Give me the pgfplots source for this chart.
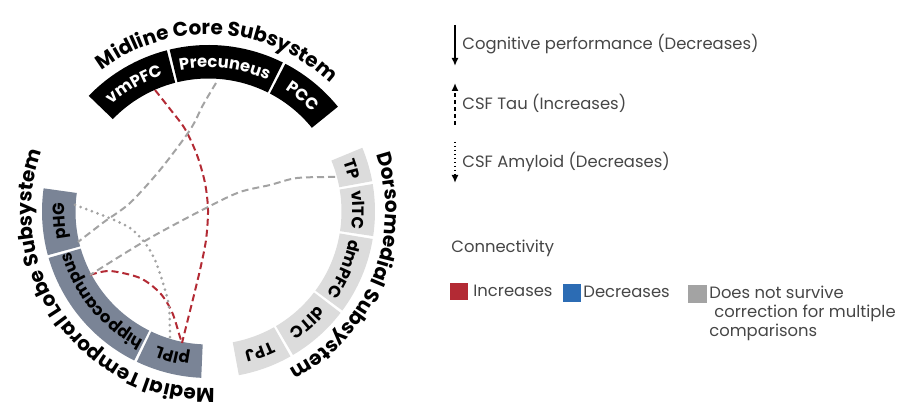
\documentclass[border=0pt]{standalone}
\usepackage{fontspec}
\setmainfont{Poppins}
\usepackage{pgfplots}
\pgfplotsset{compat=1.18}
\usetikzlibrary{decorations.text,arrows.meta}

\definecolor{mtl}{RGB}{122,132,150}
\definecolor{dms}{RGB}{220,220,220}
\definecolor{incr}{RGB}{179,42,52}
\definecolor{decr}{RGB}{44,108,180}
\definecolor{nosurv}{RGB}{163,163,163}
\definecolor{legtext}{RGB}{70,70,70}

\newcommand\titlefont{\fontsize{10pt}{12pt}\selectfont\bfseries}
\newcommand\segfont{\fontsize{8.2pt}{10pt}\selectfont\bfseries}
\newcommand\legfont{\fontsize{8.2pt}{10pt}\selectfont}

% ring centre (208.5,193.5), inner radius 133, outer radius 166.5 (axis units)
\newcommand\sector[3]{%
  \fill[#3] (axis cs:{208.5+133*cos(#1+0.5)},{193.5+133*sin(#1+0.5)})
    arc[start angle={#1+0.5}, end angle={#2-0.5}, radius=66.5pt]
    -- (axis cs:{208.5+166.5*cos(#2-0.5)},{193.5+166.5*sin(#2-0.5)})
    arc[start angle={#2-0.5}, end angle={#1+0.5}, radius=83.25pt] -- cycle;}

% text set clockwise along a circle: mid angle, radius (units), radius (pt), format, text
\newcommand\arctext[5]{%
  \path[decorate,decoration={text along path,text align=center,text={|#4|#5}}]
    (axis cs:{208.5+#2*cos(#1+70)},{193.5+#2*sin(#1+70)})
    arc[start angle={#1+70}, end angle={#1-70}, radius=#3];}

\begin{document}
\begin{tikzpicture}
\begin{axis}[
  x=0.5pt, y=0.5pt,
  xmin=0, xmax=900, ymin=0, ymax=405,
  hide axis, clip=false,
  at={(0,0)}, anchor=south west,
]
% ---- Midline Core Subsystem
\sector{104}{136.5}{black}
\sector{63}{104}{black}
\sector{38.5}{63}{black}
% ---- Dorsomedial Subsystem
\sector{10}{23}{dms}
\sector{-9}{10}{dms}
\sector{-37}{-9}{dms}
\sector{-60}{-37}{dms}
\sector{-80}{-60}{dms}
% ---- Medial Temporal Lobe Subsystem
\sector{171.5}{195.7}{mtl}
\sector{195.7}{244}{mtl}
\sector{244}{268}{mtl}

% region names
\arctext{120.25}{144}{72pt}{\color{white}\segfont}{vmPFC}
\arctext{83.5}{144}{72pt}{\color{white}\segfont}{Precuneus}
\arctext{50.75}{144}{72pt}{\color{white}\segfont}{PCC}
\arctext{16.5}{144}{72pt}{\segfont}{TP}
\arctext{0.5}{144}{72pt}{\segfont}{vlTC}
\arctext{-23}{144}{72pt}{\segfont}{dmPFC}
\arctext{-48.5}{144}{72pt}{\segfont}{dlTC}
\arctext{-70}{144}{72pt}{\segfont}{TPJ}
\arctext{183.6}{144}{72pt}{\segfont}{pHG}
\arctext{219.85}{144}{72pt}{\segfont}{hippocampus}
\arctext{256}{144}{72pt}{\segfont}{pIPL}

% subsystem names
\arctext{86.8}{177}{88.5pt}{\titlefont}{Midline Core Subsystem}
\arctext{-22}{177}{88.5pt}{\titlefont}{Dorsomedial Subsystem}
\arctext{216}{177}{88.5pt}{\titlefont}{Medial Temporal Lobe Subsystem}

% ---- connections
% vmPFC -- pIPL (increase, CSF Tau)
\addplot[incr, line width=1pt, dash pattern=on 3.5pt off 2pt, smooth] coordinates {
  (155,315) (170,296) (185,276) (197,250) (205,222) (208,195) (206,165) (200,135) (191,98) (182,62)};
% hippocampus -- pIPL (increase, CSF Tau)
\addplot[incr, line width=1pt, dash pattern=on 3.5pt off 2pt, smooth] coordinates {
  (90,130) (110,134) (140,127) (160,112) (172,93) (180,68) (182,62)};
% Precuneus -- pHG
\addplot[nosurv, line width=1pt, dash pattern=on 3.5pt off 2pt, smooth] coordinates {
  (216,322) (203,300) (190,275) (160,235) (130,202) (104,183) (78,163)};
% TP -- hippocampus
\addplot[nosurv, line width=1pt, dash pattern=on 3.5pt off 2pt, smooth] coordinates {
  (335,228) (297,227) (270,220) (240,213) (208,198) (150,167) (90,130)};
% pHG -- pIPL (CSF Amyloid)
\addplot[nosurv, line width=1.5pt, line cap=round, dash pattern=on 0pt off 3pt, smooth] coordinates {
  (75,200) (107,188) (130,177) (145,162) (155,145) (163,122) (169,98) (170,63)};

% ---- key: line styles
\addplot[black, line width=0.8pt, -{Latex[length=4pt,width=3.5pt]}] coordinates {(455,380) (455,339)};
\addplot[black, line width=0.8pt, dash pattern=on 2pt off 1.5pt, -{Latex[length=4pt,width=3.5pt]}] coordinates {(455,280) (455,322)};
\addplot[black, line width=0.8pt, dash pattern=on 0.6pt off 1.4pt, -{Latex[length=4pt,width=3.5pt]}] coordinates {(455,263) (455,222)};
\node[anchor=base west, inner sep=0, font=\legfont, text=legtext] at (axis cs:462,355) {Cognitive performance (Decreases)};
\node[anchor=base west, inner sep=0, font=\legfont, text=legtext] at (axis cs:462,295) {CSF Tau (Increases)};
\node[anchor=base west, inner sep=0, font=\legfont, text=legtext] at (axis cs:462,237) {CSF Amyloid (Decreases)};

% ---- key: connectivity
\node[anchor=base west, inner sep=0, font=\legfont, text=legtext] at (axis cs:451,152) {Connectivity};
\fill[incr] (axis cs:450,105) rectangle (axis cs:468,122);
\fill[decr] (axis cs:563,103) rectangle (axis cs:581,121);
\fill[nosurv] (axis cs:688,102) rectangle (axis cs:707,120);
\node[anchor=base west, inner sep=0, font=\legfont, text=legtext] at (axis cs:473,108) {Increases};
\node[anchor=base west, inner sep=0, font=\legfont, text=legtext] at (axis cs:583,107) {Decreases};
\node[anchor=base west, inner sep=0, font=\legfont, text=legtext] at (axis cs:709,106) {Does not survive};
\node[anchor=base west, inner sep=0, font=\legfont, text=legtext] at (axis cs:714,87) {correction for multiple};
\node[anchor=base west, inner sep=0, font=\legfont, text=legtext] at (axis cs:709,68) {comparisons};
\end{axis}
\pgfresetboundingbox
\path (0,0) rectangle (450pt,202.5pt);
\end{tikzpicture}
\end{document}
